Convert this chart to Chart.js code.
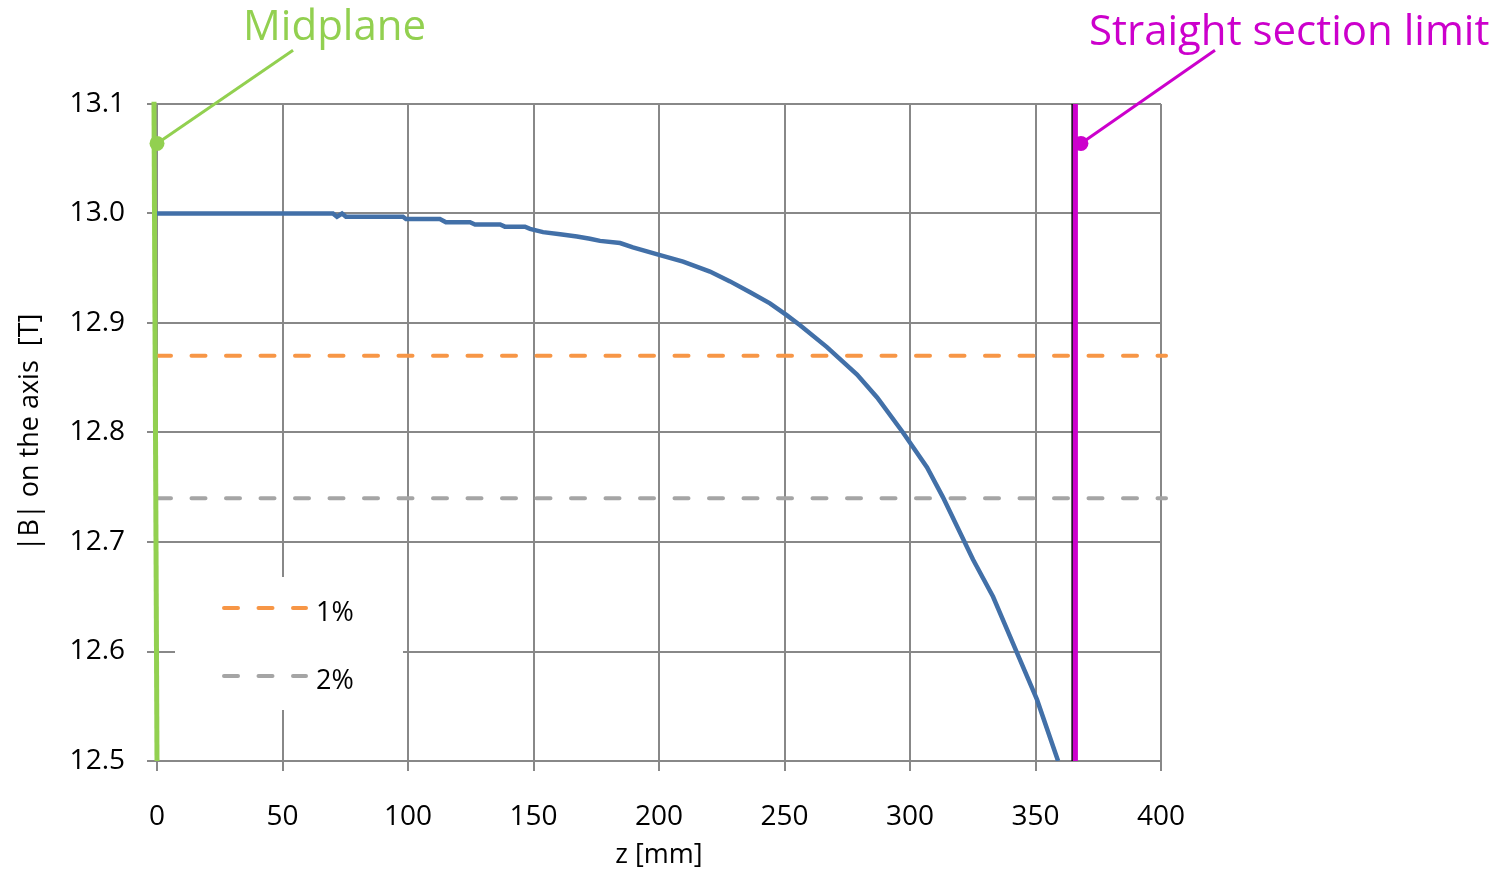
<!DOCTYPE html>
<html>
<head>
<meta charset="utf-8">
<script src="https://cdn.jsdelivr.net/npm/chart.js@4.4.1/dist/chart.umd.min.js"></script>
<style>
  html, body { margin: 0; padding: 0; background: #ffffff; }
  #wrap { width: 1508px; height: 869px; }
</style>
</head>
<body>
<div id="wrap"><canvas id="c" width="1508" height="869"></canvas></div>
<script>
// ---- data ----
const zValues = [0, 70.1, 71.7, 73.7, 75.3, 98.0, 99.2, 112.7, 115.1, 124.7, 126.7, 136.7, 138.6, 146.6, 148.6, 153.8, 160.6, 167.3, 172.5, 176.5, 184.5, 189.6, 200.4, 209.6, 220.3, 228.3, 236.3, 244.2, 251.0, 256.2, 266.9, 278.9, 286.9, 297.2, 306.8, 313.1, 325.1, 333.1, 342.6, 350.6, 359.0];
const bValues = [13.000, 13.000, 12.997, 13.000, 12.997, 12.997, 12.995, 12.995, 12.992, 12.992, 12.990, 12.990, 12.988, 12.988, 12.986, 12.983, 12.981, 12.979, 12.977, 12.975, 12.973, 12.969, 12.962, 12.956, 12.947, 12.938, 12.928, 12.918, 12.907, 12.898, 12.878, 12.853, 12.832, 12.800, 12.768, 12.741, 12.684, 12.650, 12.599, 12.556, 12.500];
const tolLabels = ['1%', '2%'];
const tolValues = [12.87, 12.74];
const tolZ = [0, 402];
const midplaneZ = [-1.2, 0];
const midplaneB = [13.102, 12.5];
const straightZ = [365.9, 365.9];
const straightB = [13.1, 12.5];
const edgeZ = [364.6, 364.6];
const annotationTexts = ['Midplane', 'Straight section limit'];
const annotationPointZ = [0, 368.1];
const annotationPointB = [13.064, 13.064];
const annotationEndZ = [54.2, 421.5];
const annotationEndB = [13.149, 13.149];
const annotationTextZ = [34.3, 371.3];
const annotationTextB = [13.158, 13.154];
const xTicks = [0, 50, 100, 150, 200, 250, 300, 350, 400];
const yTicks = ['12.5', '12.6', '12.7', '12.8', '12.9', '13.0', '13.1'];

// ---- styles ----
const FONT = '"Open Sans", "DejaVu Sans", sans-serif';
const BLUE = '#4270A8';
const ORANGE = '#F79646';
const GRAY = '#A5A5A5';
const GREEN = '#92D050';
const MAGENTA = '#CC00CC';
const GRID = '#888888';
const annColors = [GREEN, MAGENTA];

const pts = (xs, ys) => xs.map((x, i) => ({ x: x, y: ys[i] }));

const datasets = [
  { label: 'B', data: pts(zValues, bValues), borderColor: BLUE, borderWidth: 4.5, pointRadius: 0, tension: 0, order: 3 },
  { label: tolLabels[0], data: tolZ.map(z => ({ x: z, y: tolValues[0] })), borderColor: ORANGE, borderWidth: 4, borderDash: [14, 20.5], borderCapStyle: 'round', pointRadius: 0, clip: false, order: 4, legend: true },
  { label: tolLabels[1], data: tolZ.map(z => ({ x: z, y: tolValues[1] })), borderColor: GRAY, borderWidth: 4, borderDash: [14, 20.5], borderCapStyle: 'round', pointRadius: 0, clip: false, order: 5, legend: true },
  { label: 'edge', data: pts(edgeZ, straightB), borderColor: '#000000', borderWidth: 1.5, pointRadius: 0, clip: false, order: 2 },
  { label: 'straight', data: pts(straightZ, straightB), borderColor: MAGENTA, borderWidth: 5, pointRadius: 0, clip: false, order: 1 },
  { label: 'midplane', data: pts(midplaneZ, midplaneB), borderColor: GREEN, borderWidth: 5, pointRadius: 0, clip: false, order: 1 },
  { label: 'annMid', data: [{ x: annotationPointZ[0], y: annotationPointB[0] }, { x: annotationEndZ[0], y: annotationEndB[0] }], borderColor: GREEN, backgroundColor: GREEN, borderWidth: 3, pointRadius: [7.5, 0], pointBorderWidth: 0, clip: false, order: 0 },
  { label: 'annStraight', data: [{ x: annotationPointZ[1], y: annotationPointB[1] }, { x: annotationEndZ[1], y: annotationEndB[1] }], borderColor: MAGENTA, backgroundColor: MAGENTA, borderWidth: 3, pointRadius: [7.5, 0], pointBorderWidth: 0, clip: false, order: 0 }
];

const annotationPlugin = {
  id: 'annText',
  afterDraw(chart) {
    const ctx = chart.ctx, xs = chart.scales.x, ys = chart.scales.y;
    ctx.save();
    ctx.font = '42px ' + FONT;
    ctx.textAlign = 'left';
    ctx.textBaseline = 'alphabetic';
    annotationTexts.forEach((t, i) => {
      ctx.fillStyle = annColors[i];
      ctx.fillText(t, xs.getPixelForValue(annotationTextZ[i]), ys.getPixelForValue(annotationTextB[i]));
    });
    ctx.restore();
  }
};

const legendPlugin = {
  id: 'boxLegend',
  beforeDatasetsDraw(chart) {
    const ctx = chart.ctx, a = chart.chartArea;
    const left = a.left + 18, top = a.top + 473, w = 228, h = 133;
    ctx.save();
    ctx.fillStyle = '#ffffff';
    ctx.fillRect(left, top, w, h);
    const items = chart.data.datasets.filter(d => d.legend);
    items.forEach((d, i) => {
      const y = top + 31 + i * 68;
      ctx.strokeStyle = d.borderColor;
      ctx.lineWidth = 4;
      ctx.lineCap = 'round';
      ctx.setLineDash([14, 20.5]);
      ctx.beginPath();
      ctx.moveTo(left + 49, y);
      ctx.lineTo(left + 131, y);
      ctx.stroke();
      ctx.setLineDash([]);
      ctx.fillStyle = '#000000';
      ctx.font = '27px ' + FONT;
      ctx.textAlign = 'left';
      ctx.textBaseline = 'middle';
      ctx.fillText(d.label, left + 141, y + 5);
    });
    ctx.restore();
  }
};

new Chart(document.getElementById('c'), {
  type: 'line',
  data: { datasets: datasets },
  plugins: [legendPlugin, annotationPlugin],
  options: {
    responsive: false,
    animation: false,
    devicePixelRatio: 1,
    layout: { padding: { left: 0, top: 104, right: 347, bottom: 0 } },
    plugins: { legend: { display: false }, tooltip: { enabled: false } },
    scales: {
      x: {
        type: 'linear', min: 0, max: 400,
        afterBuildTicks: s => { s.ticks = xTicks.map(v => ({ value: v })); },
        afterFit: s => { s.height = 108; },
        grid: { color: GRID, lineWidth: 2, tickLength: 10, tickColor: GRID },
        border: { color: GRID, width: 2 },
        ticks: { color: '#000000', font: { family: FONT, size: 28 }, padding: 29, maxRotation: 0 },
        title: { display: true, text: 'z [mm]', color: '#000000', font: { family: FONT, size: 27 }, padding: { top: 0, bottom: -3 } }
      },
      y: {
        type: 'linear', min: 12.5, max: 13.1,
        afterBuildTicks: s => { s.ticks = yTicks.map(v => ({ value: parseFloat(v) })); },
        afterFit: s => { s.width = 157; },
        grid: { color: GRID, lineWidth: 2, tickLength: 10, tickColor: GRID },
        border: { color: GRID, width: 2 },
        ticks: { color: '#000000', font: { family: FONT, size: 28 }, padding: 22, callback: (v) => yTicks.find(t => Math.abs(parseFloat(t) - v) < 1e-6) },
        title: { display: true, text: '|B| on the axis  [T]', color: '#000000', font: { family: FONT, size: 27 }, padding: { top: 14, bottom: 0 } }
      }
    }
  }
});
</script>
</body>
</html>
